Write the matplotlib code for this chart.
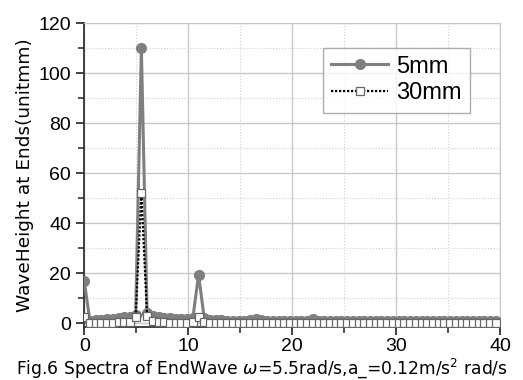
import numpy as np
import matplotlib.pyplot as plt
from matplotlib.ticker import MultipleLocator

# ===== data =====
d_omega = 0.55
n_points = 73
freq = np.arange(n_points) * d_omega

h_5mm = [17.0, 1.0, 1.2, 1.4, 1.6, 1.9, 2.1, 2.4, 2.7, 3.5,
         110.0, 4.0, 3.0, 2.5, 2.2, 2.0, 1.8, 1.7, 1.6, 2.0,
         19.5, 2.0, 1.5, 1.3, 1.2, 1.1, 1.1, 1.0, 1.0, 1.2,
         1.8, 1.2, 1.0, 1.0, 1.0, 1.0, 1.0, 1.0, 1.0, 1.1,
         1.8, 1.1, 1.0, 1.0, 1.0, 1.0, 1.0, 1.0, 1.0, 1.0,
         1.0, 1.0, 1.0, 1.0, 1.0, 1.0, 1.0, 1.0, 1.0, 1.0,
         1.0, 1.0, 1.0, 1.0, 1.0, 1.0, 1.0, 1.0, 1.0, 1.0,
         1.0, 1.0, 1.0]

h_30mm = [2.5, 0.3, 0.3, 0.3, 0.3, 0.3, 0.4, 0.5, 0.7, 2.5,
          52.0, 3.0, 0.8, 0.5, 0.4, 0.3, 0.3, 0.3, 0.3, 0.4,
          2.5, 0.4, 0.3, 0.3, 0.3, 0.3, 0.3, 0.3, 0.3, 0.3,
          0.3, 0.3, 0.3, 0.3, 0.3, 0.3, 0.3, 0.3, 0.3, 0.3,
          0.3, 0.3, 0.3, 0.3, 0.3, 0.3, 0.3, 0.3, 0.3, 0.3,
          0.3, 0.3, 0.3, 0.3, 0.3, 0.3, 0.3, 0.3, 0.3, 0.3,
          0.3, 0.3, 0.3, 0.3, 0.3, 0.3, 0.3, 0.3, 0.3, 0.3,
          0.3, 0.3, 0.3]

plt.rcParams['font.family'] = ['Liberation Sans', 'DejaVu Sans']

fig = plt.figure(figsize=(5.23, 3.8), dpi=100)
ax = fig.add_axes([0.161, 0.139, 0.795, 0.80])

ax.plot(freq, h_5mm, color="#7f7f7f", linewidth=2.2, marker="o",
        markersize=7, markerfacecolor="#7f7f7f", markeredgecolor="#7f7f7f",
        label="5mm", zorder=3)
ax.plot(freq, h_30mm, color="black", linewidth=1.6, linestyle=(0, (1, 0.8)),
        marker="s", markersize=6, markerfacecolor="white",
        markeredgecolor="#666666", markeredgewidth=0.9,
        label="30mm", zorder=4)

ax.set_xlim(0, 40)
ax.set_ylim(-1.5, 120)
ax.xaxis.set_major_locator(MultipleLocator(10))
ax.xaxis.set_minor_locator(MultipleLocator(5))
ax.yaxis.set_major_locator(MultipleLocator(20))
ax.yaxis.set_minor_locator(MultipleLocator(10))

ax.grid(True, which="major", color="#c8c8c8", linewidth=1.0)
ax.grid(True, which="minor", color="#d0d0d0", linewidth=0.8, linestyle=":")
ax.set_axisbelow(True)

for s in ["top", "right"]:
    ax.spines[s].set_color("#c8c8c8")
for s in ["left", "bottom"]:
    ax.spines[s].set_color("#333333")
    ax.spines[s].set_linewidth(1.3)

ax.tick_params(which="major", direction="out", length=6, width=1.3,
               labelsize=14, color="#333333", top=False, right=False)
ax.tick_params(axis="x", which="major", pad=2)
ax.tick_params(which="minor", direction="out", length=4, width=1.2,
               color="#333333", top=False, right=False)

ax.set_ylabel("WaveHeight at Ends(unitmm)", fontsize=13.3,
              family="DejaVu Sans", labelpad=3)

# caption under the axis, centred on the figure like the original
fig.text(0.5, 0.017,
         r"Fig.6 Spectra of EndWave $\omega$=5.5rad/s,a_=0.12m/s$^2$ rad/s",
         fontsize=12.3, family="DejaVu Sans", ha="center", va="baseline")

leg = ax.legend(loc="upper right", bbox_to_anchor=(0.928, 0.92),
                borderaxespad=0, fontsize=17, frameon=True, fancybox=False,
                handlelength=2.4, borderpad=0.35, labelspacing=0.2,
                handletextpad=0.35)
leg.get_frame().set_edgecolor("#999999")
leg.get_frame().set_linewidth(1.0)

plt.savefig("out.png", dpi=100)
